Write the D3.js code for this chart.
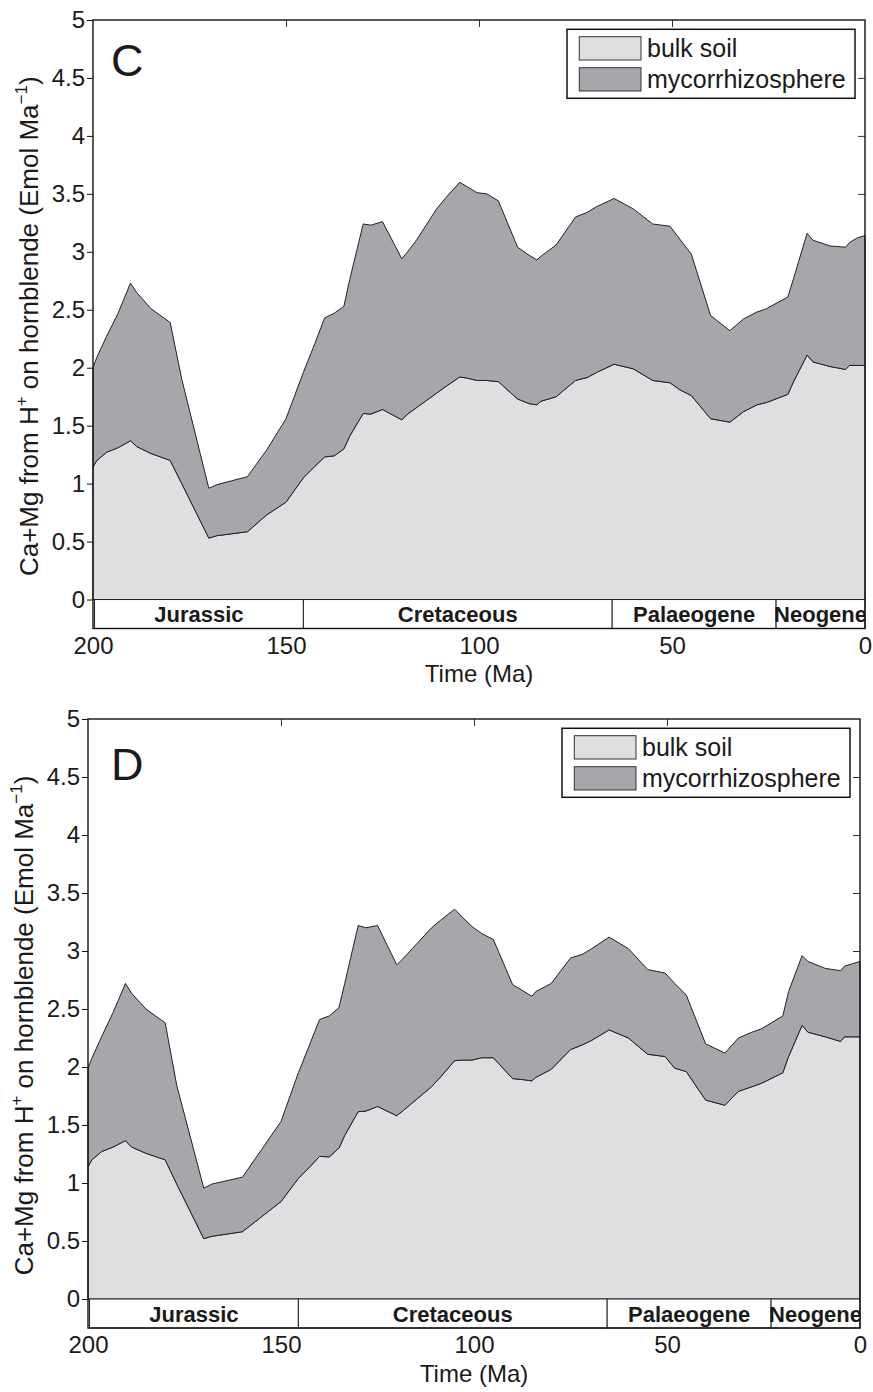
<!DOCTYPE html>
<html>
<head>
<meta charset="utf-8">
<script src="https://cdn.jsdelivr.net/npm/d3@7"></script>
<style>
  html, body { margin: 0; padding: 0; background: #fff; }
  svg { display: block; }
  text { font-family: "Liberation Sans", Arial, Helvetica, sans-serif; fill: #1a1a1a; }
</style>
</head>
<body>
<svg id="fig" width="873" height="1392"></svg>
<script>
// Time axis (Ma before present)
const timeMa = [200, 199, 196.5, 193.5, 190.3, 188.7, 185, 180, 177, 170,
  168, 160, 155, 150, 145.5, 142.5, 140, 137.5, 135, 133.5,
  130, 128, 125, 120, 118.5, 116, 111, 108.5, 105, 103,
  100.5, 98, 95, 90, 87, 85, 84, 80, 75, 72,
  69.5, 65, 60, 55, 50.5, 48, 45, 40, 35, 31.5,
  28, 25.5, 20, 18.5, 15, 13.5, 9, 5, 4, 2, 0];

// Panel C: Ca+Mg release (Emol/Ma)
const bulkSoilC = [1.145, 1.20, 1.27, 1.31, 1.37, 1.32, 1.26, 1.20, 1.00, 0.53,
  0.55, 0.585, 0.73, 0.84, 1.05, 1.15, 1.23, 1.24, 1.30, 1.41,
  1.605, 1.60, 1.64, 1.55, 1.60, 1.66, 1.78, 1.84, 1.92, 1.91,
  1.89, 1.89, 1.88, 1.73, 1.69, 1.68, 1.71, 1.75, 1.89, 1.915,
  1.96, 2.03, 1.99, 1.89, 1.87, 1.81, 1.76, 1.56, 1.53, 1.62,
  1.68, 1.70, 1.77, 1.88, 2.11, 2.05, 2.01, 1.985, 2.02, 2.02, 2.02];
const mycorrhizosphereC = [0.855, 0.89, 1.00, 1.16, 1.36, 1.33, 1.25, 1.19, 0.90, 0.43,
  0.44, 0.475, 0.56, 0.72, 0.91, 1.06, 1.20, 1.23, 1.23, 1.35,
  1.635, 1.63, 1.62, 1.39, 1.40, 1.45, 1.59, 1.63, 1.68, 1.65,
  1.62, 1.61, 1.56, 1.31, 1.28, 1.25, 1.25, 1.31, 1.41, 1.425,
  1.43, 1.43, 1.38, 1.35, 1.35, 1.30, 1.22, 0.89, 0.79, 0.80,
  0.80, 0.81, 0.84, 0.89, 1.05, 1.05, 1.04, 1.055, 1.06, 1.10, 1.12];

// Panel D
const bulkSoilD = [1.14, 1.20, 1.27, 1.31, 1.365, 1.31, 1.256, 1.20, 0.99, 0.52,
  0.54, 0.58, 0.71, 0.84, 1.04, 1.14, 1.23, 1.225, 1.30, 1.41,
  1.615, 1.62, 1.66, 1.58, 1.62, 1.69, 1.83, 1.92, 2.055, 2.06,
  2.06, 2.08, 2.08, 1.90, 1.89, 1.88, 1.91, 1.98, 2.15, 2.19,
  2.23, 2.32, 2.25, 2.11, 2.09, 1.99, 1.96, 1.715, 1.67, 1.79,
  1.83, 1.86, 1.95, 2.09, 2.36, 2.30, 2.26, 2.22, 2.26, 2.26, 2.26];
const mycorrhizosphereD = [0.85, 0.875, 0.99, 1.16, 1.355, 1.325, 1.244, 1.18, 0.85, 0.435,
  0.45, 0.47, 0.58, 0.69, 0.91, 1.06, 1.18, 1.215, 1.21, 1.31,
  1.605, 1.58, 1.56, 1.30, 1.31, 1.33, 1.37, 1.35, 1.305, 1.23,
  1.15, 1.07, 1.02, 0.81, 0.76, 0.73, 0.74, 0.74, 0.79, 0.78,
  0.79, 0.80, 0.77, 0.73, 0.72, 0.73, 0.66, 0.485, 0.45, 0.46,
  0.47, 0.47, 0.49, 0.56, 0.60, 0.61, 0.59, 0.61, 0.61, 0.63, 0.65];

// Geological periods (start, end in Ma)
const periodNames = ["Jurassic", "Cretaceous", "Palaeogene", "Neogene"];
const periodStart = [199.6, 145.5, 65.5, 23.03];
const periodEnd = [145.5, 65.5, 23.03, 0];

const xTicks = [200, 150, 100, 50, 0];
const yTicks = [0, 0.5, 1, 1.5, 2, 2.5, 3, 3.5, 4, 4.5, 5];
const seriesNames = ["bulk soil", "mycorrhizosphere"];
const seriesColors = ["#dedfe1", "#a6a7aa"];

const svg = d3.select("#fig");

function drawPanel(cfg) {
  const x = d3.scaleLinear().domain([200, 0]).range([cfg.left, cfg.right]);
  const y = d3.scaleLinear().domain([-0.25, 5]).range([cfg.bottom, cfg.top]);
  const g = svg.append("g");

  const rows = timeMa.map((t, i) => ({ t, "bulk soil": cfg.bulk[i], "mycorrhizosphere": cfg.myco[i] }));
  const stacked = d3.stack().keys(seriesNames)(rows);

  // inward ticks on top and right edges (sit beneath the areas)
  g.append("g")
    .attr("transform", `translate(0,${cfg.top})`)
    .call(d3.axisTop(x).tickValues([150, 100, 50]).tickSize(-7).tickFormat(""))
    .call(a => a.select(".domain").remove())
    .call(a => a.selectAll("line").attr("stroke", "#333").attr("stroke-width", 1));
  g.append("g")
    .attr("transform", `translate(${cfg.right},0)`)
    .call(d3.axisRight(y).tickValues(yTicks.slice(1, -1)).tickSize(-7).tickFormat(""))
    .call(a => a.select(".domain").remove())
    .call(a => a.selectAll("line").attr("stroke", "#333").attr("stroke-width", 1));

  // stacked areas
  const area = d3.area()
    .x(d => x(d.data.t))
    .y0(d => y(d[0]))
    .y1(d => y(d[1]));
  g.selectAll("path.layer")
    .data(stacked)
    .join("path")
    .attr("class", "layer")
    .attr("d", area)
    .attr("fill", (d, i) => seriesColors[i])
    .attr("stroke", "#222")
    .attr("stroke-width", 1)
    .attr("stroke-linejoin", "round");

  // geological period bar
  const bar = g.append("g");
  bar.selectAll("rect")
    .data(periodNames)
    .join("rect")
    .attr("x", (d, i) => x(periodStart[i]))
    .attr("width", (d, i) => x(periodEnd[i]) - x(periodStart[i]))
    .attr("y", y(0))
    .attr("height", y(-0.25) - y(0))
    .attr("fill", "#fff")
    .attr("stroke", "#222")
    .attr("stroke-width", 1);
  const clipId = "clip-" + cfg.id;
  g.append("clipPath").attr("id", clipId)
    .append("rect")
    .attr("x", cfg.left).attr("y", cfg.top)
    .attr("width", cfg.right - cfg.left).attr("height", cfg.bottom - cfg.top);
  bar.append("g").attr("clip-path", `url(#${clipId})`)
    .selectAll("text")
    .data(periodNames)
    .join("text")
    .attr("x", (d, i) => x((periodStart[i] + periodEnd[i]) / 2))
    .attr("y", y(-0.125) + 8)
    .attr("text-anchor", "middle")
    .attr("font-size", 22)
    .attr("font-weight", "bold")
    .text(d => d);

  // frame
  g.append("rect")
    .attr("x", cfg.left).attr("y", cfg.top)
    .attr("width", cfg.right - cfg.left).attr("height", cfg.bottom - cfg.top)
    .attr("fill", "none").attr("stroke", "#111").attr("stroke-width", 1.4);

  // left axis
  g.append("g")
    .attr("transform", `translate(${cfg.left},0)`)
    .call(d3.axisLeft(y).tickValues(yTicks).tickSize(6).tickPadding(2).tickFormat(d3.format("")))
    .call(a => a.select(".domain").remove())
    .call(a => a.selectAll("line").attr("stroke", "#111").attr("stroke-width", 1))
    .call(a => a.selectAll("text").attr("font-size", 24).attr("font-family", null).attr("fill", "#1a1a1a"));

  // bottom tick labels
  g.append("g")
    .attr("transform", `translate(0,${cfg.bottom})`)
    .call(d3.axisBottom(x).tickValues(xTicks).tickSize(0).tickPadding(8).tickFormat(d3.format("")))
    .call(a => a.select(".domain").remove())
    .call(a => a.selectAll("text").attr("font-size", 24).attr("font-family", null).attr("fill", "#1a1a1a"));

  g.append("text")
    .attr("x", (cfg.left + cfg.right) / 2)
    .attr("y", cfg.bottom + 53.5)
    .attr("text-anchor", "middle")
    .attr("font-size", 24)
    .text("Time (Ma)");

  // y-axis title
  const yl = g.append("text")
    .attr("transform", `translate(${cfg.ylabelX},${(cfg.top + cfg.bottom) / 2 + 2}) rotate(-90)`)
    .attr("text-anchor", "middle")
    .attr("font-size", 26);
  yl.append("tspan").text("Ca+Mg from H");
  yl.append("tspan").attr("font-size", 17).attr("dy", -11).text("+");
  yl.append("tspan").attr("dy", 11).text(" on hornblende (Emol Ma");
  yl.append("tspan").attr("font-size", 17).attr("dy", -11).text("\u22121");
  yl.append("tspan").attr("dy", 11).text(")");

  // panel letter
  g.append("text")
    .attr("x", cfg.letterX).attr("y", cfg.letterY)
    .attr("font-size", 45)
    .text(cfg.letter);

  // legend
  const lx = cfg.right - 298, ly = cfg.top + 9.3;
  const leg = g.append("g");
  leg.append("rect")
    .attr("x", lx).attr("y", ly).attr("width", 288).attr("height", 69)
    .attr("fill", "#fff").attr("stroke", "#111").attr("stroke-width", 1.5);
  seriesNames.forEach((name, i) => {
    leg.append("rect")
      .attr("x", lx + 12.3).attr("y", ly + 7.4 + i * 31)
      .attr("width", 61.7).attr("height", 23.3)
      .attr("fill", seriesColors[i]).attr("stroke", "#333").attr("stroke-width", 1);
    leg.append("text")
      .attr("x", lx + 80).attr("y", ly + 27.4 + i * 31.6)
      .attr("font-size", 25)
      .text(name);
  });
}

drawPanel({ id: "c", letter: "C", left: 93, right: 865, top: 20, bottom: 628.5,
  bulk: bulkSoilC, myco: mycorrhizosphereC, ylabelX: 38, letterX: 111, letterY: 76 });
drawPanel({ id: "d", letter: "D", left: 88, right: 860, top: 719, bottom: 1328,
  bulk: bulkSoilD, myco: mycorrhizosphereD, ylabelX: 33, letterX: 111, letterY: 780 });
</script>
</body>
</html>
